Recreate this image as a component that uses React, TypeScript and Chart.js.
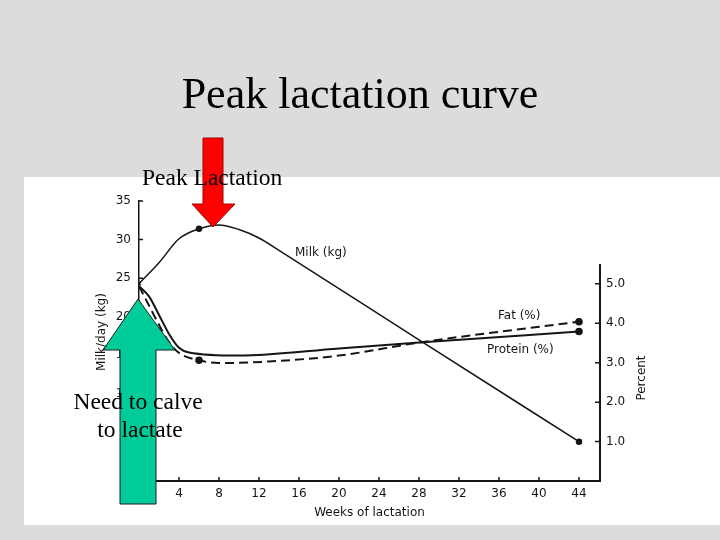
import { useEffect, useRef } from 'react';
import Chart from 'chart.js/auto';

// Values
const milkWeeks = [0, 2, 4, 6, 8, 10, 12, 14, 28, 44];
const milkKg = [24.3, 27.0, 30.1, 31.4, 31.9, 31.3, 30.2, 28.6, 17.0, 3.8];
const milkMarkerWeeks = [0, 6, 44];

const fatWeeks = [0, 1, 2, 3, 4, 6, 8, 13, 20, 28, 44];
const fatPct = [4.94, 4.45, 3.96, 3.52, 3.25, 3.06, 2.99, 3.03, 3.18, 3.51, 4.04];
const fatMarkerWeeks = [6, 44];

const proteinWeeks = [0, 1, 2, 3, 4, 5, 10, 20, 28, 44];
const proteinPct = [4.94, 4.68, 4.21, 3.73, 3.38, 3.26, 3.18, 3.36, 3.51, 3.79];
const proteinMarkerWeeks = [44];

const weekTicks = [4, 8, 12, 16, 20, 24, 28, 32, 36, 40, 44];
const milkTicks = [0, 5, 10, 15, 20, 25, 30, 35];
const percentTicks = [1, 2, 3, 4, 5];

const SANS = "'DejaVu Sans', sans-serif";
const SERIF = "'Liberation Serif', 'Times New Roman', serif";
const INK = '#151515';

const toPoints = (xs: number[], ys: number[]) => xs.map((x, i) => ({ x, y: ys[i] }));

// the scan has its tick marks pointing into the plot, and a short right axis
const inwardTicks = {
  id: 'inwardTicks',
  afterDraw(chart: any) {
    const { ctx, scales } = chart;
    const { x, y, y1 } = scales;
    ctx.save();
    ctx.strokeStyle = INK;
    ctx.lineWidth = 1.5;
    ctx.beginPath();
    weekTicks.forEach((v) => {
      const px = x.getPixelForValue(v);
      ctx.moveTo(px, x.top);
      ctx.lineTo(px, x.top - 4);
    });
    milkTicks.forEach((v) => {
      const py = y.getPixelForValue(v);
      ctx.moveTo(y.right, py);
      ctx.lineTo(y.right + 4, py);
    });
    percentTicks.forEach((v) => {
      const py = y1.getPixelForValue(v);
      ctx.moveTo(y1.left, py);
      ctx.lineTo(y1.left - 5, py);
    });
    ctx.stroke();

    ctx.lineWidth = 2;
    ctx.beginPath();
    ctx.moveTo(y1.left, y1.getPixelForValue(0));
    ctx.lineTo(y1.left, y1.getPixelForValue(5.5));
    ctx.stroke();
    ctx.restore();
  },
};

const tickFont = { family: SANS, size: 12 };

function LactationChart() {
  const canvasRef = useRef<HTMLCanvasElement>(null);
  const chartRef = useRef<Chart | null>(null);

  useEffect(() => {
    if (!canvasRef.current) return;
    const ctx = canvasRef.current.getContext('2d');
    if (!ctx) return;

    if (chartRef.current) {
      chartRef.current.destroy();
      chartRef.current = null;
    }

    chartRef.current = new Chart(ctx, {
      type: 'line',
      data: {
        datasets: [
          {
            label: 'Milk (kg)',
            data: toPoints(milkWeeks, milkKg),
            yAxisID: 'y',
            borderColor: INK,
            borderWidth: 1.5,
            cubicInterpolationMode: 'monotone',
            pointRadius: (c: any) => (milkMarkerWeeks.includes(milkWeeks[c.dataIndex]) ? 2.5 : 0),
            pointStyle: (c: any) => (milkWeeks[c.dataIndex] === 0 ? 'crossRot' : 'circle'),
            pointBackgroundColor: INK,
            pointBorderColor: INK,
          },
          {
            label: 'Fat (%)',
            data: toPoints(fatWeeks, fatPct),
            yAxisID: 'y1',
            borderColor: INK,
            borderWidth: 2,
            borderDash: [9, 5],
            cubicInterpolationMode: 'monotone',
            pointRadius: (c: any) => (fatMarkerWeeks.includes(fatWeeks[c.dataIndex]) ? 2.8 : 0),
            pointBackgroundColor: INK,
            pointBorderColor: INK,
          },
          {
            label: 'Protein (%)',
            data: toPoints(proteinWeeks, proteinPct),
            yAxisID: 'y1',
            borderColor: INK,
            borderWidth: 2,
            cubicInterpolationMode: 'monotone',
            pointRadius: (c: any) =>
              proteinMarkerWeeks.includes(proteinWeeks[c.dataIndex]) ? 2.8 : 0,
            pointBackgroundColor: INK,
            pointBorderColor: INK,
          },
        ],
      },
      options: {
        responsive: true,
        maintainAspectRatio: false,
        animation: false,
        events: [],
        layout: { padding: { top: 201, left: 0, right: 0, bottom: 0 } },
        plugins: {
          legend: { display: false },
          tooltip: { enabled: false },
        },
        scales: {
          x: {
            type: 'linear',
            min: 0,
            max: 46.1,
            afterFit: (s: any) => {
              s.height = 59;
            },
            afterBuildTicks: (s: any) => {
              s.ticks = weekTicks.map((value) => ({ value }));
            },
            grid: { display: false, drawTicks: false },
            border: { display: true, color: INK, width: 2 },
            ticks: { padding: 6, font: tickFont, color: INK, maxRotation: 0, autoSkip: false },
            title: {
              display: true,
              text: 'Weeks of lactation',
              font: tickFont,
              color: INK,
              padding: { top: 0, bottom: 20 },
            },
          },
          y: {
            type: 'linear',
            position: 'left',
            min: -1.3,
            max: 35,
            afterFit: (s: any) => {
              s.width = 139;
            },
            afterBuildTicks: (s: any) => {
              s.ticks = milkTicks.map((value) => ({ value }));
            },
            grid: { display: false, drawTicks: false },
            border: { display: true, color: INK, width: 1.5 },
            ticks: { padding: 8, font: tickFont, color: INK },
          },
          y1: {
            type: 'linear',
            position: 'right',
            min: 0,
            max: 7.1,
            afterFit: (s: any) => {
              s.width = 120;
            },
            afterBuildTicks: (s: any) => {
              s.ticks = percentTicks.map((value) => ({ value }));
            },
            grid: { display: false, drawTicks: false },
            border: { display: false },
            ticks: {
              padding: 6,
              font: tickFont,
              color: INK,
              callback: (v: any) => Number(v).toFixed(1),
            },
          },
        },
      },
      plugins: [inwardTicks],
    } as any);

    return () => {
      if (chartRef.current) {
        chartRef.current.destroy();
        chartRef.current = null;
      }
    };
  }, []);

  return (
    <div style={{ position: 'absolute', left: 0, top: 0, width: 720, height: 540 }}>
      <canvas ref={canvasRef} />
    </div>
  );
}

export default function App() {
  const labelStyle = { fontFamily: SANS, fontSize: 12, fill: INK };
  return (
    <div
      style={{
        position: 'fixed',
        left: 0,
        top: 0,
        width: 720,
        height: 540,
        background: '#dcdcdc',
        overflow: 'hidden',
      }}
    >
      <div style={{ position: 'absolute', left: 24, top: 177, width: 696, height: 348, background: '#ffffff' }} />
      <LactationChart />
      <svg
        width={720}
        height={540}
        style={{ position: 'absolute', left: 0, top: 0, pointerEvents: 'none' }}
      >
        <text x={360} y={108} textAnchor="middle" style={{ fontFamily: SERIF, fontSize: 44, fill: '#000' }}>
          Peak lactation curve
        </text>

        <polygon
          points="203,138 223,138 223,204 235,204 213,227 192,204 203,204"
          fill="#ff0000"
          stroke="#a30000"
          strokeWidth={1}
        />
        <polygon
          points="138,299 175,350 156,350 156,504 120,504 120,350 103,350"
          fill="#00cc99"
          stroke="#1f1f1f"
          strokeWidth={1}
        />

        <text x={142} y={185} style={{ fontFamily: SERIF, fontSize: 23.5, fill: '#000' }}>
          Peak Lactation
        </text>
        <text x={138} y={409} textAnchor="middle" style={{ fontFamily: SERIF, fontSize: 23.5, fill: '#000' }}>
          Need to calve
        </text>
        <text x={140} y={437} textAnchor="middle" style={{ fontFamily: SERIF, fontSize: 23.5, fill: '#000' }}>
          to lactate
        </text>

        <text x={295} y={256} style={labelStyle}>
          Milk (kg)
        </text>
        <text x={498} y={319} style={labelStyle}>
          Fat (%)
        </text>
        <text x={487} y={353} style={labelStyle}>
          Protein (%)
        </text>

        <text transform="translate(105,332) rotate(-90)" textAnchor="middle" style={labelStyle}>
          Milk/day (kg)
        </text>
        <text transform="translate(645,378) rotate(-90)" textAnchor="middle" style={labelStyle}>
          Percent
        </text>
      </svg>
    </div>
  );
}
